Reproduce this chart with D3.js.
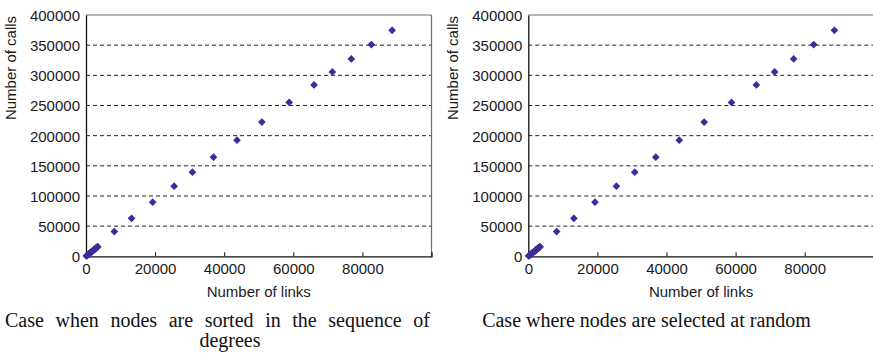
<!DOCTYPE html>
<html>
<head>
<meta charset="utf-8">
<script src="https://cdn.jsdelivr.net/npm/d3@7"></script>
<style>
  html, body { margin: 0; padding: 0; background: #fff; }
  svg { display: block; }
</style>
</head>
<body>
<svg id="chart" width="873" height="358"></svg>
<script>
// ---- Data ----
const xTicks = [0, 20000, 40000, 60000, 80000];
const yTicks = [0, 50000, 100000, 150000, 200000, 250000, 300000, 350000, 400000];

// Panel 1: nodes sorted in sequence of degrees
const sortedLinks = [100, 250, 400, 550, 700, 850, 1000, 1150, 1300, 1450, 1600, 1750, 1900, 2050, 2200, 2350, 2500, 2650, 2800, 2950, 3100, 3250, 3400,
  8200, 13200, 19300, 25500, 30800, 36900, 43700, 50900, 58800, 66000, 71300, 76800, 82600, 88600];
const sortedCalls = [500, 1200, 1900, 2600, 3300, 4000, 4700, 5400, 6100, 6800, 7500, 8200, 8900, 9600, 10300, 11000, 11700, 12400, 13100, 13800, 14500, 15200, 15900,
  41000, 63000, 89700, 116300, 139500, 164400, 192500, 222600, 255100, 284000, 305600, 327200, 351000, 374700];

// Panel 2: nodes selected at random
const randomLinks = [100, 250, 400, 550, 700, 850, 1000, 1150, 1300, 1450, 1600, 1750, 1900, 2050, 2200, 2350, 2500, 2650, 2800, 2950, 3100, 3250, 3400,
  8200, 13200, 19300, 25500, 30800, 36900, 43700, 50900, 58800, 66000, 71300, 76800, 82600, 88600];
const randomCalls = [500, 1200, 1900, 2600, 3300, 4000, 4700, 5400, 6100, 6800, 7500, 8200, 8900, 9600, 10300, 11000, 11700, 12400, 13100, 13800, 14500, 15200, 15900,
  41000, 63000, 89700, 116300, 139500, 164400, 192500, 222600, 255100, 284000, 305600, 327200, 351000, 374700];

const xTitle = "Number of links";
const yTitle = "Number of calls";
const caption1 = ["Case when nodes are sorted in the sequence of", "degrees"];
const caption2 = ["Case where nodes are selected at random"];

// ---- Drawing ----
const svg = d3.select("#chart");
const sans = "'Liberation Sans', Arial, Helvetica, sans-serif";
const serif = "'Liberation Serif', 'Times New Roman', serif";
const markColor = "#3b2e9b";
const textColor = "#1a1a1a";

function panel(left, xs, ys) {
  const top = 15, bottom = 256.3, width = 345.5;
  const x = d3.scaleLinear().domain([0, 100000]).range([left, left + width]);
  const y = d3.scaleLinear().domain([0, 400000]).range([bottom, top]);
  const g = svg.append("g");

  // gridlines
  g.selectAll("line.grid").data(yTicks.filter(v => v > 0 && v < 400000)).join("line")
    .attr("x1", left).attr("x2", left + width)
    .attr("y1", d => y(d)).attr("y2", d => y(d))
    .attr("stroke", "#222").attr("stroke-width", 1)
    .attr("stroke-dasharray", "4,3");

  // frame: top & right gray, left & bottom black
  g.append("line").attr("x1", left).attr("x2", left + width).attr("y1", y(400000)).attr("y2", y(400000))
    .attr("stroke", "#6e6e6e").attr("stroke-width", 1.2);
  g.append("line").attr("x1", left + width).attr("x2", left + width).attr("y1", top).attr("y2", bottom)
    .attr("stroke", "#6e6e6e").attr("stroke-width", 1.2);

  // x axis
  const xAxis = d3.axisBottom(x).tickValues(xTicks).tickSize(-4).tickPadding(8).tickFormat(d3.format("d"));
  const xa = g.append("g").attr("transform", `translate(0,${bottom})`).call(xAxis);
  xa.select(".domain").attr("stroke", "#111").attr("stroke-width", 1.3);
  xa.selectAll(".tick line").attr("stroke", "#111");
  xa.selectAll("text").attr("font-family", sans).attr("font-size", 15).attr("fill", textColor).attr("dy", "0.71em")
    .attr("y", 7);

  // y axis
  const yAxis = d3.axisLeft(y).tickValues(yTicks).tickSize(0).tickPadding(6).tickFormat(d3.format("d"));
  const ya = g.append("g").attr("transform", `translate(${left},0)`).call(yAxis);
  ya.select(".domain").attr("stroke", "#111").attr("stroke-width", 1.3);
  ya.selectAll("text").attr("font-family", sans).attr("font-size", 15).attr("fill", textColor).attr("dy", "0.36em");

  // titles
  g.append("text").attr("x", left + width / 2).attr("y", 297).attr("text-anchor", "middle")
    .attr("font-family", sans).attr("font-size", 15).attr("fill", textColor).text(xTitle);
  g.append("text").attr("transform", `translate(${left - 70},68) rotate(-90)`).attr("text-anchor", "middle")
    .attr("font-family", sans).attr("font-size", 15).attr("fill", textColor).text(yTitle);

  // points
  const sym = d3.symbol().type(d3.symbolSquare).size(30);
  g.selectAll("path.pt").data(xs.map((v, i) => [v, ys[i]])).join("path")
    .attr("class", "pt")
    .attr("d", sym)
    .attr("transform", d => `translate(${x(d[0])},${y(d[1])}) rotate(45)`)
    .attr("fill", markColor);
}

panel(86, sortedLinks, sortedCalls);
panel(528.3, randomLinks, randomCalls);

// captions
const cap = (txt, x, y, anchor, wordSpacing) => {
  const t = svg.append("text").attr("x", x).attr("y", y).attr("text-anchor", anchor)
    .attr("font-family", serif).attr("font-size", 20).attr("fill", "#111").text(txt);
  if (wordSpacing) t.style("word-spacing", wordSpacing + "px");
};
cap(caption1[0], 5, 327, "start", 6.6);
cap(caption1[1], 230, 347, "middle");
cap(caption2[0], 646.5, 327, "middle");
</script>
</body>
</html>
